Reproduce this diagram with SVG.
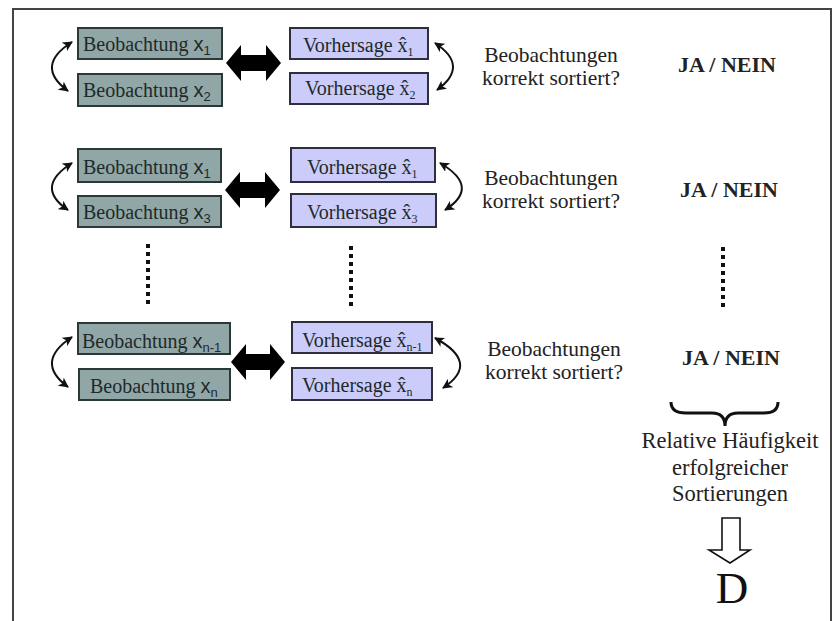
<svg xmlns="http://www.w3.org/2000/svg" width="840" height="621" viewBox="0 0 840 621">
<defs>
<marker id="ah" viewBox="0 0 10 10" refX="9" refY="5" markerWidth="5" markerHeight="5" orient="auto-start-reverse" markerUnits="strokeWidth">
<path d="M0,0 L10,5 L0,10 L2.5,5 Z" fill="#111"/>
</marker>
<style>
.obs{fill:#91a6a6;stroke:#2b3838;stroke-width:2}
.pre{fill:#ccccfb;stroke:#2e2e3e;stroke-width:2}
.bt{font-size:20px;fill:#1d2a2a}
.sx{font-size:20px}
.sub{font-size:13px}
.subs{font-size:12px}
.q{font-size:21.5px;fill:#222;text-anchor:middle}
.ja{font-size:22px;font-weight:bold;fill:#222;text-anchor:middle}
.bl{font-size:22.5px;fill:#222;text-anchor:middle}
.cur{fill:none;stroke:#111;stroke-width:2;marker-start:url(#ah);marker-end:url(#ah)}
.big{fill:#000}
.dots{stroke:#111;stroke-width:4;stroke-dasharray:4 4}
</style>
</defs>
<rect x="13" y="9" width="818" height="630" fill="#fff" stroke="#444" stroke-width="2"/>

<g id="block1" font-family="'Liberation Serif',serif">
<g id="obs1a"><rect class="obs" x="78" y="28" width="144" height="31"/><text class="bt" x="83" y="51">Beobachtung <tspan class="sx" font-family="'Liberation Sans',sans-serif">x</tspan><tspan class="sub" font-family="'Liberation Sans',sans-serif" dy="4">1</tspan></text></g>
<g id="obs1b"><rect class="obs" x="78" y="74" width="144" height="32"/><text class="bt" x="83" y="97">Beobachtung <tspan class="sx" font-family="'Liberation Sans',sans-serif">x</tspan><tspan class="sub" font-family="'Liberation Sans',sans-serif" dy="4">2</tspan></text></g>
<g id="pre1a"><rect class="pre" x="290" y="28" width="138" height="31"/><text class="bt" x="303" y="52">Vorhersage x̂<tspan class="subs" dy="4">1</tspan></text></g>
<g id="pre1b"><rect class="pre" x="290" y="73" width="138" height="31"/><text class="bt" x="305" y="95">Vorhersage x̂<tspan class="subs" dy="4">2</tspan></text></g>
<g id="q1"><text class="q" x="551" y="62">Beobachtungen</text><text class="q" x="551" y="85">korrekt sortiert?</text></g>
<g id="ja1"><text class="ja" x="727" y="72">JA / NEIN</text></g>
</g>

<g id="block2" font-family="'Liberation Serif',serif">
<g id="obs2a"><rect class="obs" x="78" y="149" width="143" height="33"/><text class="bt" x="83" y="174">Beobachtung <tspan class="sx" font-family="'Liberation Sans',sans-serif">x</tspan><tspan class="sub" font-family="'Liberation Sans',sans-serif" dy="4">1</tspan></text></g>
<g id="obs2b"><rect class="obs" x="78" y="196" width="143" height="31"/><text class="bt" x="83" y="219">Beobachtung <tspan class="sx" font-family="'Liberation Sans',sans-serif">x</tspan><tspan class="sub" font-family="'Liberation Sans',sans-serif" dy="4">3</tspan></text></g>
<g id="pre2a"><rect class="pre" x="291" y="148" width="144" height="34"/><text class="bt" x="307" y="174">Vorhersage x̂<tspan class="subs" dy="4">1</tspan></text></g>
<g id="pre2b"><rect class="pre" x="291" y="194" width="145" height="33"/><text class="bt" x="307" y="219">Vorhersage  x̂<tspan class="subs" dy="4">3</tspan></text></g>
<g id="q2"><text class="q" x="551" y="185">Beobachtungen</text><text class="q" x="551" y="208">korrekt sortiert?</text></g>
<g id="ja2"><text class="ja" x="729" y="197">JA / NEIN</text></g>
</g>

<g id="block3" font-family="'Liberation Serif',serif">
<g id="obs3a"><rect class="obs" x="78" y="323" width="152" height="31"/><text class="bt" x="82" y="348">Beobachtung <tspan class="sx" font-family="'Liberation Sans',sans-serif">x</tspan><tspan class="sub" font-family="'Liberation Sans',sans-serif" dy="4">n-1</tspan></text></g>
<g id="obs3b"><rect class="obs" x="79" y="369" width="151" height="31"/><text class="bt" x="90" y="393">Beobachtung <tspan class="sx" font-family="'Liberation Sans',sans-serif">x</tspan><tspan class="sub" font-family="'Liberation Sans',sans-serif" dy="4">n</tspan></text></g>
<g id="pre3a"><rect class="pre" x="292" y="322" width="140" height="31"/><text class="bt" x="302" y="347">Vorhersage x̂<tspan class="subs" dy="4">n-1</tspan></text></g>
<g id="pre3b"><rect class="pre" x="292" y="368" width="140" height="32"/><text class="bt" x="302" y="392">Vorhersage  x̂<tspan class="subs" dy="4">n</tspan></text></g>
<g id="q3"><text class="q" x="554" y="356">Beobachtungen</text><text class="q" x="554" y="379">korrekt sortiert?</text></g>
<g id="ja3"><text class="ja" x="731" y="365">JA / NEIN</text></g>
</g>

<g id="summary" font-family="'Liberation Serif',serif">
<path d="M671,402 Q671,413 686,413 L712,413 Q725,413 725,426 Q725,413 738,413 L764,413 Q778,413 778,402" fill="none" stroke="#111" stroke-width="3"/>
<text class="bl" x="730" y="448">Relative Häufigkeit</text>
<text class="bl" x="730" y="475">erfolgreicher</text>
<text class="bl" x="730" y="501">Sortierungen</text>
<polygon points="722,518 740,518 740,550 750,550 730,563 709,550 722,550" fill="#fff" stroke="#111" stroke-width="1.6"/>
<text id="D" x="732" y="603" font-size="45" fill="#111" text-anchor="middle">D</text>
</g>

<g id="connectors">
<path class="cur" d="M72,42 Q34,66 68,91"/>
<path class="cur" d="M72,163 Q34,187 68,210"/>
<path class="cur" d="M72,337 Q34,362 68,387"/>
<path class="cur" d="M435,43 Q470,66 437,90"/>
<path class="cur" d="M440,163 Q481,187 445,210"/>
<path class="cur" d="M435,338 Q481,363 443,388"/>
<path class="big" d="M226,63 L241,45 L241,55 L266,55 L266,45 L281,63 L266,81 L266,71 L241,71 L241,81 Z"/>
<path class="big" d="M225,190 L240,172 L240,182 L265,182 L265,172 L280,190 L265,208 L265,198 L240,198 L240,208 Z"/>
<path class="big" d="M231,362 L246,344 L246,354 L270,354 L270,344 L285,362 L270,380 L270,370 L246,370 L246,380 Z"/>
<line class="dots" x1="148" y1="244" x2="148" y2="304"/>
<line class="dots" x1="351" y1="246" x2="351" y2="306"/>
<line class="dots" x1="723" y1="247" x2="723" y2="307"/>
</g>
</svg>
